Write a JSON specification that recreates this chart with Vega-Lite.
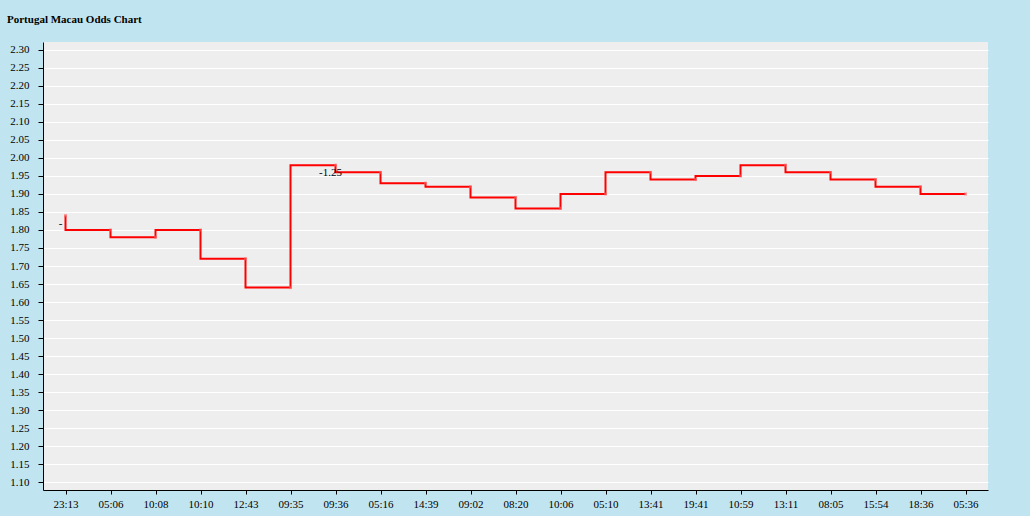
{
  "$schema": "https://vega.github.io/schema/vega-lite/v6.json",
  "autosize": {"type": "none"},
  "width": 945,
  "height": 448,
  "padding": {"left": 43, "top": 42, "right": 42, "bottom": 26},
  "background": "#C1E5F0",
  "title": {
    "text": "Portugal Macau Odds Chart",
    "anchor": "start",
    "frame": "group",
    "font": "Liberation Serif",
    "fontSize": 11,
    "fontWeight": "bold",
    "color": "#000000",
    "dx": -36,
    "offset": 17
  },
  "config": {
    "view": {"fill": "#EEEEEE", "stroke": null},
    "axis": {
      "labelFont": "Liberation Serif",
      "labelFontSize": 11,
      "labelColor": "#000000",
      "domainColor": "#000000",
      "tickColor": "#000000",
      "domainWidth": 1,
      "tickWidth": 1
    }
  },
  "data": {
    "values": [
      {"time": "23:13", "odds": 1.84, "hcap": "-"},
      {"time": "05:06", "odds": 1.80, "hcap": ""},
      {"time": "10:08", "odds": 1.78, "hcap": ""},
      {"time": "10:10", "odds": 1.80, "hcap": ""},
      {"time": "12:43", "odds": 1.72, "hcap": ""},
      {"time": "09:35", "odds": 1.64, "hcap": ""},
      {"time": "09:36", "odds": 1.98, "hcap": "-1.25"},
      {"time": "05:16", "odds": 1.96, "hcap": ""},
      {"time": "14:39", "odds": 1.93, "hcap": ""},
      {"time": "09:02", "odds": 1.92, "hcap": ""},
      {"time": "08:20", "odds": 1.89, "hcap": ""},
      {"time": "10:06", "odds": 1.86, "hcap": ""},
      {"time": "05:10", "odds": 1.90, "hcap": ""},
      {"time": "13:41", "odds": 1.96, "hcap": ""},
      {"time": "19:41", "odds": 1.94, "hcap": ""},
      {"time": "10:59", "odds": 1.95, "hcap": ""},
      {"time": "13:11", "odds": 1.98, "hcap": ""},
      {"time": "08:05", "odds": 1.96, "hcap": ""},
      {"time": "15:54", "odds": 1.94, "hcap": ""},
      {"time": "18:36", "odds": 1.92, "hcap": ""},
      {"time": "05:36", "odds": 1.90, "hcap": ""}
    ]
  },
  "encoding": {
    "x": {
      "field": "time",
      "type": "ordinal",
      "sort": null,
      "scale": {"type": "point", "padding": 0.5},
      "axis": {"title": null, "labelAngle": 0, "tickSize": 4, "labelPadding": 4, "grid": false}
    },
    "y": {
      "field": "odds",
      "type": "quantitative",
      "scale": {"domain": [1.078, 2.322], "nice": false, "zero": false},
      "axis": {
        "title": null,
        "values": [1.1, 1.15, 1.2, 1.25, 1.3, 1.35, 1.4, 1.45, 1.5, 1.55, 1.6, 1.65, 1.7, 1.75, 1.8, 1.85, 1.9, 1.95, 2.0, 2.05, 2.1, 2.15, 2.2, 2.25, 2.3],
        "format": ".2f",
        "tickSize": 5,
        "labelPadding": 9,
        "grid": true,
        "gridColor": "#FFFFFF",
        "gridWidth": 1.2
      }
    }
  },
  "layer": [
    {
      "mark": {"type": "line", "interpolate": "step-before", "color": "#FF0000", "strokeWidth": 2}
    },
    {
      "mark": {"type": "square", "size": 9, "color": "#FF6060", "opacity": 0.6, "filled": true}
    },
    {
      "mark": {"type": "text", "dx": -5, "dy": 8, "font": "Liberation Serif", "fontSize": 11, "color": "#000000"},
      "encoding": {"text": {"field": "hcap"}}
    }
  ]
}
